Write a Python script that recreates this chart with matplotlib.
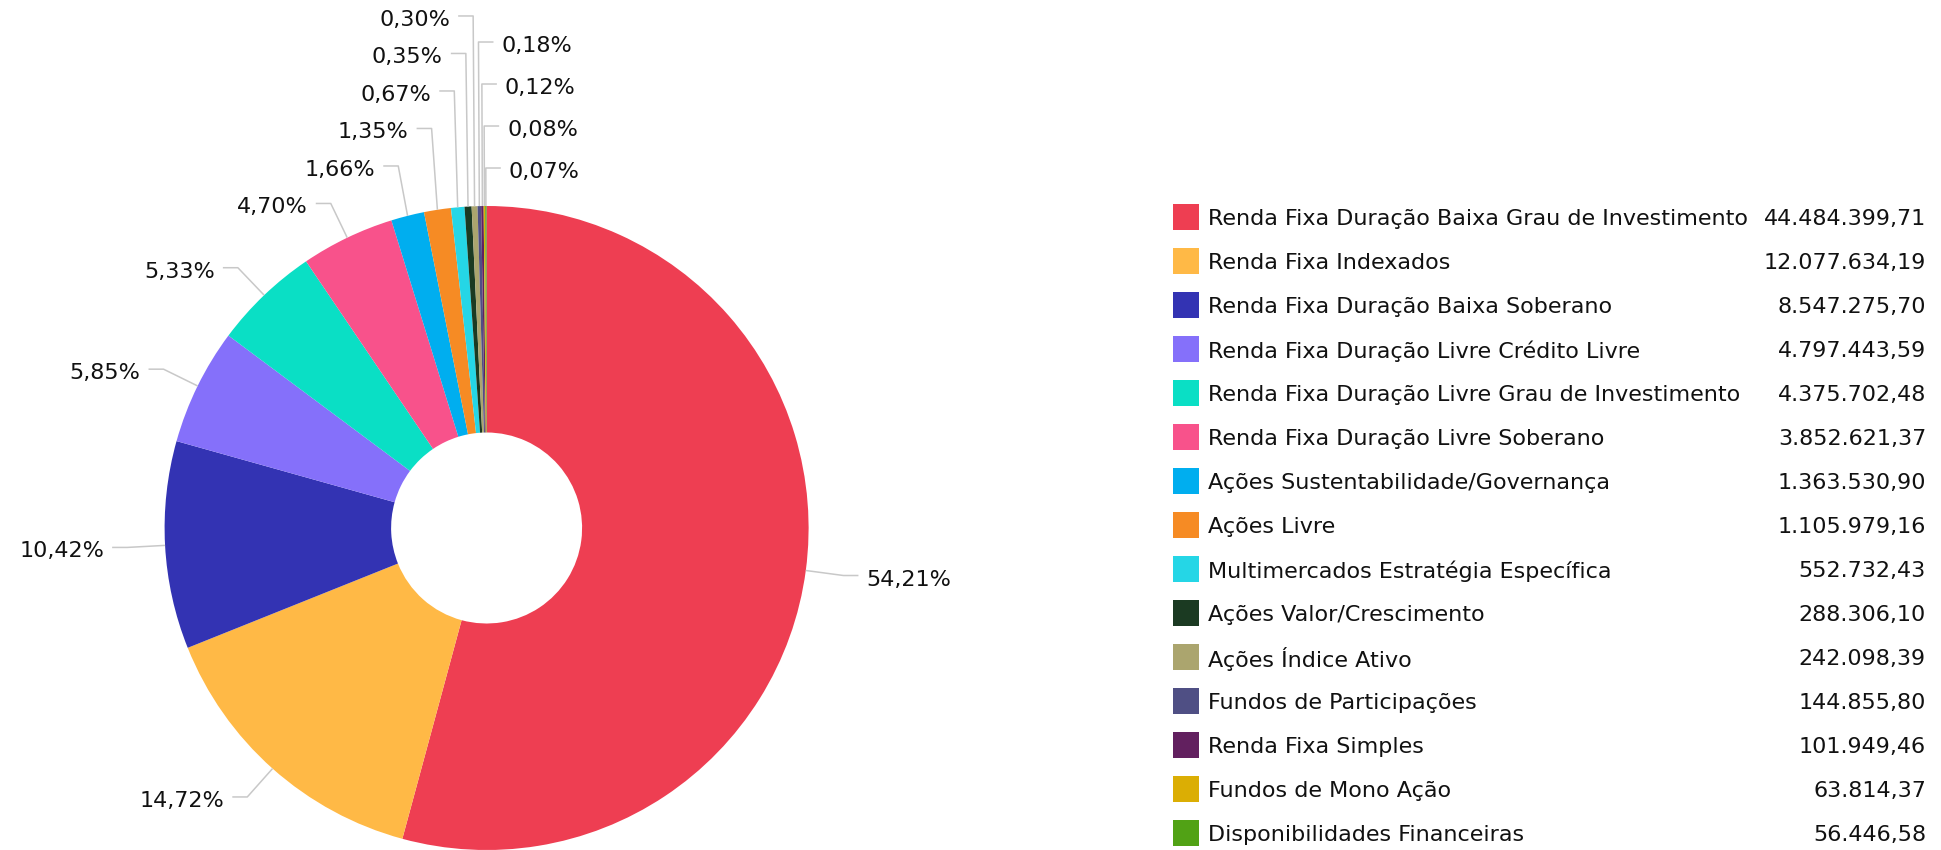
import numpy as np
import matplotlib
matplotlib.use("Agg")
from matplotlib import pyplot as plt
from matplotlib.patches import Rectangle

# Data from the chart
categories = [
    "Renda Fixa Duração Baixa Grau de Investimento",
    "Renda Fixa Indexados",
    "Renda Fixa Duração Baixa Soberano",
    "Renda Fixa Duração Livre Crédito Livre",
    "Renda Fixa Duração Livre Grau de Investimento",
    "Renda Fixa Duração Livre Soberano",
    "Ações Sustentabilidade/Governança",
    "Ações Livre",
    "Multimercados Estratégia Específica",
    "Ações Valor/Crescimento",
    "Ações Índice Ativo",
    "Fundos de Participações",
    "Renda Fixa Simples",
    "Fundos de Mono Ação",
    "Disponibilidades Financeiras",
]
values = [44484399.71, 12077634.19, 8547275.70, 4797443.59, 4375702.48,
          3852621.37, 1363530.90, 1105979.16, 552732.43, 288306.10,
          242098.39, 144855.80, 101949.46, 63814.37, 56446.58]
colors = ["#EE3E52", "#FFB946", "#3333B3", "#8570FA", "#0ADFC5",
          "#F8528B", "#00AEEF", "#F68B24", "#25D6E6", "#1B3A22",
          "#ABA56E", "#4F4F84", "#62205F", "#DBAE04", "#51A215"]


def br_number(v):
    s = f"{v:,.2f}"
    return s.replace(",", "X").replace(".", ",").replace("X", ".")


def br_pct(frac):
    return f"{frac * 100:.2f}".replace(".", ",") + "%"


W, H = 1941, 850
cx, cy = 486.6, 528
radius = 322
hole = 95.5
fsize = 16.0
txt_color = "#111111"
line_color = "#c8c8c8"

fig = plt.figure(figsize=(W / 100, H / 100), dpi=100)
ax = fig.add_axes([0, 0, 1, 1])

# y axis inverted -> counterclock in data is clockwise on screen
ax.pie(values, colors=colors, startangle=-90, counterclock=True,
       radius=radius, center=(cx, cy),
       wedgeprops=dict(width=radius - hole, linewidth=0))
ax.set_xlim(0, W)
ax.set_ylim(H, 0)
ax.set_axis_off()

# Data labels with connectors
total = sum(values)
fracs = [v / total for v in values]
cum = np.cumsum([0] + fracs[:-1])
dist = 38
left, right = [], []
for i, f in enumerate(fracs):
    a = 360 * (cum[i] + f / 2)          # clockwise from top
    phi = np.radians(-90 + a)
    edge = (cx + radius * np.cos(phi), cy + radius * np.sin(phi))
    item = dict(i=i, edge=edge,
                x=cx + (radius + dist) * np.cos(phi),
                y=cy + (radius + dist) * np.sin(phi))
    if np.cos(phi) > -0.025:
        item["key"] = -(a if a <= 180 else a - 360)
        right.append(item)
    else:
        item["key"] = a
        left.append(item)

# push overlapping labels upward, bottom label first
for group, gap in ((left, 37.5), (right, 42)):
    group.sort(key=lambda d: d["key"])
    prev = None
    for d in group:
        if prev is not None:
            d["y"] = min(d["y"], prev - gap)
        prev = d["y"]

for group, sign in ((left, -1), (right, 1)):
    for d in group:
        x2 = d["x"] + sign * 15
        ax.plot([d["edge"][0], d["x"], x2], [d["edge"][1], d["y"], d["y"]],
                color=line_color, lw=1.1, solid_capstyle="butt", zorder=1)
        ax.text(x2 + sign * 8, d["y"] + 4, br_pct(fracs[d["i"]]),
                ha="left" if sign > 0 else "right", va="center",
                fontsize=fsize, color=txt_color)

# Legend
for i, (name, v, c) in enumerate(zip(categories, values, colors)):
    y = 217 + 44 * i
    ax.add_patch(Rectangle((1173, y - 13), 26, 26, color=c, lw=0))
    ax.text(1208, y + 2, name, ha="left", va="center",
            fontsize=fsize, color=txt_color)
    ax.text(1926, y + 2, br_number(v), ha="right", va="center",
            fontsize=fsize, color=txt_color)

fig.savefig("out.png", dpi=100)
